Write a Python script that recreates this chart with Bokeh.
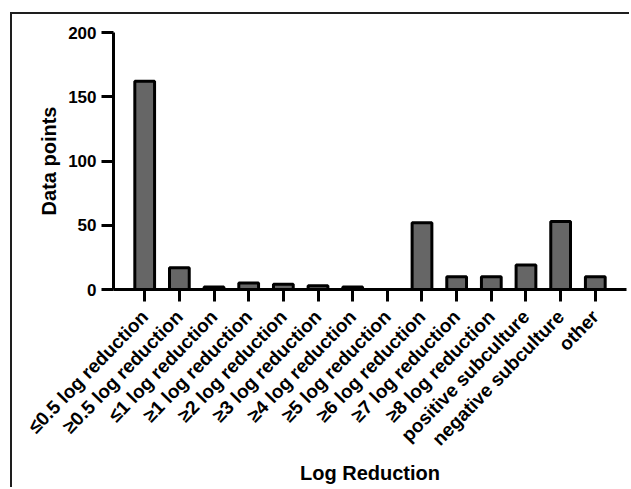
from bokeh.plotting import figure
from bokeh.models import FactorRange, Range1d, FixedTicker, ColumnDataSource
from bokeh.embed import file_html
from bokeh.resources import INLINE

categories = [
    "≤0.5 log reduction", "≥0.5 log reduction", "≤1 log reduction",
    "≥1 log reduction", "≥2 log reduction", "≥3 log reduction",
    "≥4 log reduction", "≥5 log reduction", "≥6 log reduction",
    "≥7 log reduction", "≥8 log reduction", "positive subculture",
    "negative subculture", "other",
]
data_points = [162, 17, 2, 5, 4, 3, 2, 0, 52, 10, 10, 19, 53, 10]
y_ticks = [0, 50, 100, 150, 200]

FONT = "Liberation Sans"

source = ColumnDataSource(data=dict(cat=categories, val=data_points))

p = figure(
    x_range=FactorRange(*categories, range_padding=0.4, range_padding_units="absolute"),
    y_range=Range1d(0, 200),
    width=619, height=475,
    output_backend="svg", toolbar_location=None,
    min_border_left=101, min_border_right=5,
    min_border_top=18, min_border_bottom=200,
)
p.margin = (12, 0, 0, 10)
p.styles = {"border-left": "2px solid #1e1e1e", "border-top": "2px solid #1e1e1e"}

p.vbar(x="cat", top="val", bottom=0, width=0.57, source=source,
       fill_color="#666666", line_color="#000000", line_width=3)

p.outline_line_color = None
p.xgrid.visible = False
p.ygrid.visible = False
p.background_fill_color = "white"
p.border_fill_color = "white"

for ax in (p.xaxis[0], p.yaxis[0]):
    ax.axis_line_width = 3
    ax.axis_line_color = "black"
    ax.major_tick_line_width = 3
    ax.major_tick_line_color = "black"
    ax.major_tick_out = 12
    ax.major_tick_in = 0
    ax.minor_tick_out = 0
    ax.minor_tick_in = 0
    ax.major_label_text_font = FONT
    ax.major_label_text_font_style = "bold"
    ax.major_label_text_color = "black"
    ax.axis_label_text_font = FONT
    ax.axis_label_text_font_style = "bold"
    ax.axis_label_text_color = "black"
    ax.axis_label_text_font_size = "20px"

p.yaxis.ticker = FixedTicker(ticks=y_ticks)
p.yaxis.major_label_text_font_size = "17px"
p.yaxis.major_label_standoff = 5
p.yaxis.axis_label = "Data points"
p.yaxis.axis_label_standoff = 5

p.xaxis.major_label_orientation = 0.8
p.xaxis.major_label_text_font_size = "19px"
p.xaxis.major_label_standoff = 12
p.xaxis.axis_label = "Log Reduction"
p.xaxis.axis_label_standoff = 2

open("out.html", "w").write(file_html(p, INLINE))
